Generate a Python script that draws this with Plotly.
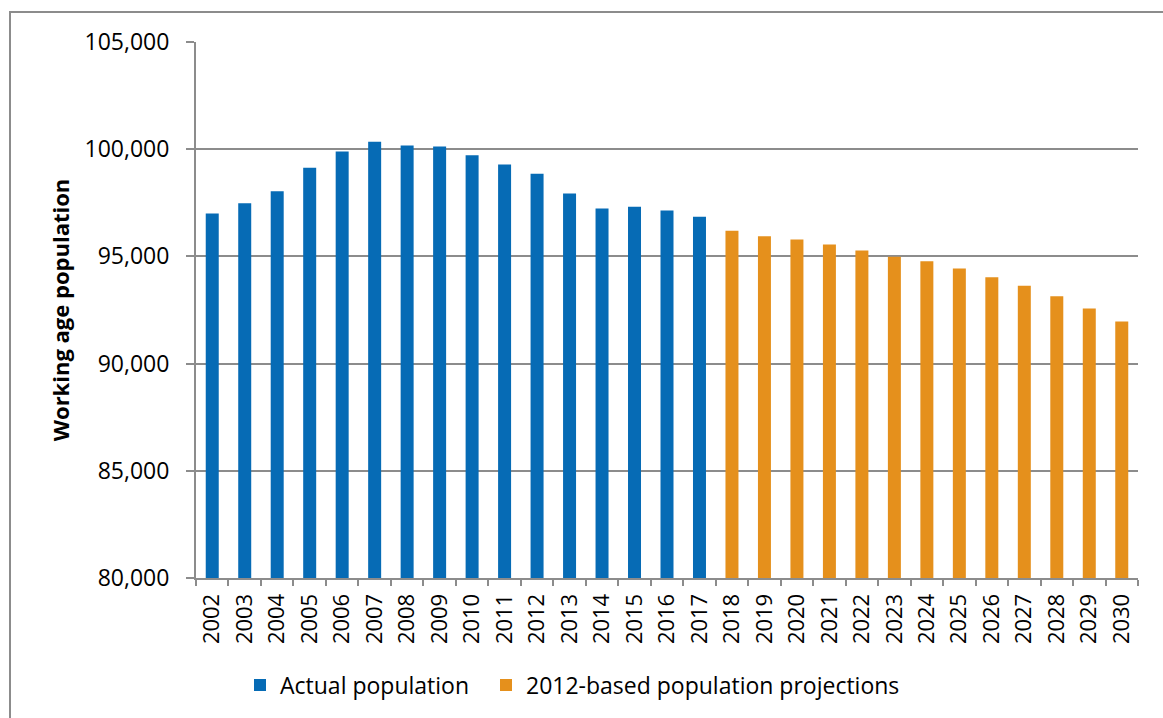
import plotly.graph_objects as go

years_actual = [str(y) for y in range(2002, 2018)]
actual = [97000, 97480, 98040, 99130, 99890, 100350, 100170, 100130,
          99720, 99285, 98850, 97930, 97230, 97320, 97140, 96855]

years_proj = [str(y) for y in range(2018, 2031)]
projected = [96200, 95935, 95790, 95560, 95280, 94985, 94770, 94440,
             94030, 93630, 93145, 92570, 91960]

all_years = years_actual + years_proj
y_ticks = [80000, 85000, 90000, 95000, 100000, 105000]
y_ticklabels = ["80,000", "85,000", "90,000", "95,000", "100,000", "105,000"]

FONT = "Open Sans"
GRID = "#8c8c8c"

fig = go.Figure()
fig.add_trace(go.Bar(x=years_actual, y=actual, name="Actual population",
                     marker=dict(color="#066BB5", line=dict(width=0)), legend="legend"))
fig.add_trace(go.Bar(x=years_proj, y=projected, name="2012-based population projections",
                     marker=dict(color="#E5901C", line=dict(width=0)), legend="legend2"))

W, H = 1163, 718
L, R, T, B = 196, 1138, 42, 578
pw, ph = R - L, B - T

def px(x):
    return (x - L) / pw

def py(y):
    return (B - y) / ph

leg_common = dict(orientation="h", xanchor="left", yanchor="middle", y=py(685),
                  font=dict(size=23, family=FONT, color="black"), itemwidth=30,
                  bgcolor="rgba(0,0,0,0)")

fig.update_layout(
    width=W, height=H,
    margin=dict(l=L, r=W - R, t=T, b=H - B, pad=0),
    paper_bgcolor="white", plot_bgcolor="white",
    barmode="overlay", bargap=0.6,
    font=dict(family=FONT, color="black"),
    showlegend=True,
    legend=dict(x=px(240), **leg_common),
    legend2=dict(x=px(486), **leg_common),
    xaxis=dict(type="category", categoryorder="array", categoryarray=all_years,
               tickangle=-90, tickfont=dict(size=22, family=FONT, color="black"),
               showline=True, linecolor=GRID, linewidth=2,
               ticks="outside", ticklen=6, tickcolor=GRID, tickwidth=2,
               tickson="boundaries", showgrid=False, ticklabelstandoff=5),
    yaxis=dict(range=[80000, 105000], tickvals=y_ticks, ticktext=y_ticklabels,
               tickfont=dict(size=23, family=FONT, color="black"),
               showgrid=True, gridcolor=GRID, gridwidth=2,
               showline=True, linecolor=GRID, linewidth=2,
               ticks="outside", ticklen=8, tickcolor=GRID, tickwidth=2,
               ticklabelstandoff=12, zeroline=False,
               title=dict(text="<b>Working age population</b>",
                          font=dict(size=22, family=FONT, color="black"), standoff=9)),
    shapes=[dict(type="rect", xref="paper", yref="paper",
                 x0=px(10), x1=px(1180), y0=py(740), y1=py(12),
                 line=dict(color=GRID, width=2), fillcolor="rgba(0,0,0,0)", layer="below")],
)

fig.write_html("out.html")
